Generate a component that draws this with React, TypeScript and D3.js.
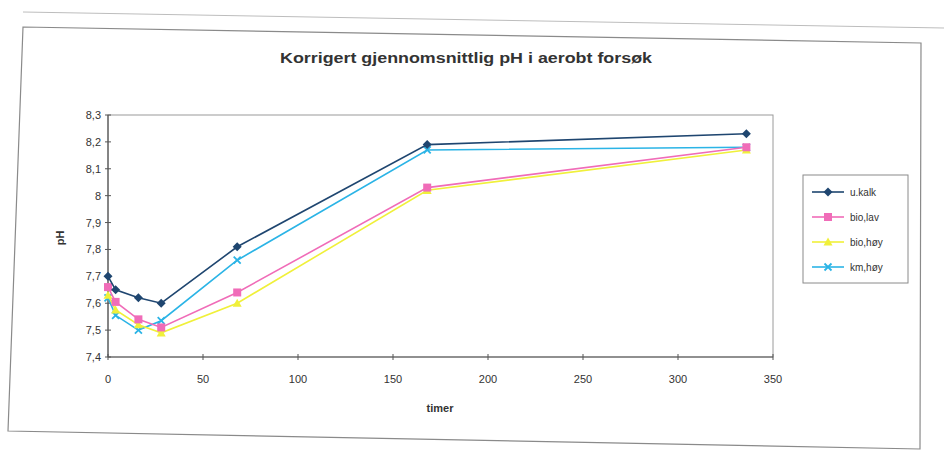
import React from "react";
import * as d3 from "d3";

const hours = [0, 4, 16, 28, 68, 168, 336];
const uKalk = [7.70, 7.65, 7.62, 7.60, 7.81, 8.19, 8.23];
const bioLav = [7.66, 7.605, 7.54, 7.51, 7.64, 8.03, 8.18];
const bioHoy = [7.63, 7.575, 7.52, 7.49, 7.60, 8.02, 8.17];
const kmHoy = [7.62, 7.555, 7.50, 7.535, 7.76, 8.17, 8.18];
const seriesNames = ["u.kalk", "bio,lav", "bio,høy", "km,høy"];
const yTicks = [7.4, 7.5, 7.6, 7.7, 7.8, 7.9, 8.0, 8.1, 8.2, 8.3];
const xTicks = [0, 50, 100, 150, 200, 250, 300, 350];
const titleText = "Korrigert gjennomsnittlig pH i aerobt forsøk";
const xTitle = "timer";
const yTitle = "pH";

const colors = ["#1f4670", "#f06cb8", "#f0f03a", "#2bb4e6"];
const markers = ["diamond", "square", "triangle", "x"];

const L = 108, R = 773, T = 115, B = 357;

function Marker({ type, x, y, color }: { type: string; x: number; y: number; color: string }) {
  if (type === "diamond") {
    const s = 4.5;
    return <path d={`M${x},${y - s}L${x + s},${y}L${x},${y + s}L${x - s},${y}Z`} fill={color} />;
  }
  if (type === "square") {
    const s = 4;
    return <rect x={x - s} y={y - s} width={2 * s} height={2 * s} fill={color} />;
  }
  if (type === "triangle") {
    const s = 4.5;
    return <path d={`M${x},${y - s}L${x + s},${y + s * 0.8}L${x - s},${y + s * 0.8}Z`} fill={color} />;
  }
  const s = 3.5;
  return (
    <path d={`M${x - s},${y - s}L${x + s},${y + s}M${x - s},${y + s}L${x + s},${y - s}`} stroke={color} strokeWidth={1.8} />
  );
}

export default function App() {
  const x = d3.scaleLinear().domain([0, 350]).range([L, R]);
  const y = d3.scaleLinear().domain([7.4, 8.3]).range([B, T]);
  const data = [uKalk, bioLav, bioHoy, kmHoy];
  const line = d3
    .line<number>()
    .x((_, i) => x(hours[i]))
    .y((d) => y(d));
  const fmt = (v: number) => {
    const s = d3.format(".1f")(v);
    return s.endsWith(".0") ? s.slice(0, -2) : s.replace(".", ",");
  };
  const order = [3, 2, 1, 0];
  const legendX = 803, legendY = 175, legendW = 105, legendH = 108;
  const font = "Arial, 'Liberation Sans', sans-serif";

  return (
    <svg width={944} height={457} style={{ position: "absolute", left: 0, top: 0, background: "#fff" }} fontFamily={font}>
      {/* scanned outer frame */}
      <path d="M23,12L944,28" stroke="#bdbdbd" strokeWidth={1} fill="none" />
      <path d="M23,27L921,43L920,449L8,431Z" stroke="#8a8a8a" strokeWidth={1.2} fill="none" />

      <text x={466} y={63} textAnchor="middle" fontSize={14} fontWeight="bold" fill="#333" textLength={372} lengthAdjust="spacingAndGlyphs">
        {titleText}
      </text>

      {/* plot area */}
      <rect x={L} y={T} width={R - L} height={B - T} fill="none" stroke="#9a9a9a" strokeWidth={1} />
      <line x1={L} x2={L} y1={T} y2={B} stroke="#555" strokeWidth={1.2} />
      <line x1={L} x2={R} y1={B} y2={B} stroke="#555" strokeWidth={1.2} />

      {yTicks.map((t) => (
        <g key={"y" + t}>
          <line x1={L - 3} x2={L + 3} y1={y(t)} y2={y(t)} stroke="#555" />
          <text x={L - 7} y={y(t) + 4} textAnchor="end" fontSize={11} fill="#333">
            {fmt(t)}
          </text>
        </g>
      ))}
      {xTicks.map((t) => (
        <g key={"x" + t}>
          <line x1={x(t)} x2={x(t)} y1={B - 3} y2={B + 3} stroke="#555" />
          <text x={x(t)} y={B + 26} textAnchor="middle" fontSize={11} fill="#333">
            {t}
          </text>
        </g>
      ))}

      <text x={440} y={412} textAnchor="middle" fontSize={11} fontWeight="bold" fill="#333">
        {xTitle}
      </text>
      <text transform={`translate(64,238) rotate(-90)`} textAnchor="middle" fontSize={11} fontWeight="bold" fill="#333">
        {yTitle}
      </text>

      {order.map((si) => (
        <g key={"s" + si}>
          <path d={line(data[si]) || ""} fill="none" stroke={colors[si]} strokeWidth={1.6} />
          {data[si].map((v, i) => (
            <Marker key={i} type={markers[si]} x={x(hours[i])} y={y(v)} color={colors[si]} />
          ))}
        </g>
      ))}

      {/* legend */}
      <rect x={legendX} y={legendY} width={legendW} height={legendH} fill="#fff" stroke="#8a8a8a" strokeWidth={1} />
      {seriesNames.map((name, i) => {
        const ly = 192 + i * 25;
        return (
          <g key={name}>
            <line x1={812} x2={844} y1={ly} y2={ly} stroke={colors[i]} strokeWidth={1.6} />
            <Marker type={markers[i]} x={828} y={ly} color={colors[i]} />
            <text x={850} y={ly + 4} fontSize={10} fill="#333">
              {name}
            </text>
          </g>
        );
      })}
    </svg>
  );
}
